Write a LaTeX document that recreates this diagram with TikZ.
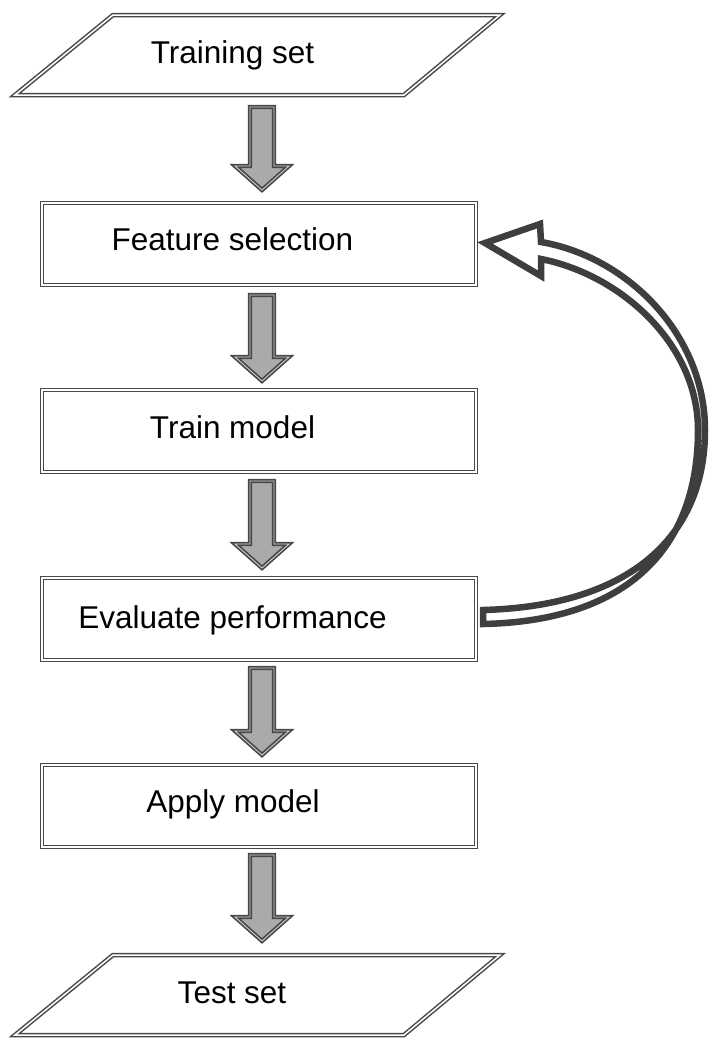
\documentclass[tikz,border=0pt]{standalone}
\usepackage{fontspec}
\setmainfont{Liberation Sans}
\usetikzlibrary{calc}
\definecolor{lineg}{RGB}{72,72,72}
\definecolor{fillg}{RGB}{170,170,170}
\definecolor{curveg}{RGB}{62,62,62}
\tikzset{
  dbl/.style={draw=lineg, line width=1.5pt, double=white, double distance=1.5pt},
  box/.style={dbl, rectangle, minimum width=434pt, minimum height=82pt, inner sep=0pt, outer sep=0pt},
  txt/.style={font=\fontsize{31.5pt}{36pt}\selectfont, inner sep=0pt, anchor=base, text=black},
  blk/.style={draw=lineg, line width=1.7pt, double=fillg!55!white, double distance=0.9pt, fill=fillg, line join=miter},
  loopar/.style={draw=curveg, fill=white, line width=6.5pt, line join=miter},
}
\newcommand\blockarrow[2]{%
  \path[blk] let \p1=(#1), \p2=(#2) in
    (\x1-12pt,\y1) -- (\x1+12pt,\y1) -- (\x1+12pt,\y2+24pt) -- (\x1+27pt,\y2+24pt)
    -- (\x1,\y2) -- (\x1-27pt,\y2+24pt) -- (\x1-12pt,\y2+24pt) -- cycle;}
\begin{document}
\begin{tikzpicture}[x=1pt,y=-1pt]
\useasboundingbox[fill=white] (0,0) rectangle (719,1050);

% input parallelogram
\draw[dbl] (113,15) -- (500,15) -- (404,95) -- (15,95) -- cycle;
\coordinate (tsb) at (259,95);
\node[txt] (ts) at ($(tsb)+(-26.5,-32)$) {Training set};

% process boxes
\node[box] (fs) at (259,244) {};
\node[box] (tm) at (259,431) {};
\node[box] (ep) at (259,619) {};
\node[box] (am) at (259,806) {};
\node[txt] (fs-t) at ($(fs)+(-26.5,6)$) {Feature selection};
\node[txt] (tm-t) at ($(tm)+(-26.5,7)$) {Train model};
\node[txt] (ep-t) at ($(ep)+(-26.5,9)$) {Evaluate performance};
\node[txt] (am-t) at ($(am)+(-26,6)$) {Apply model};

% output parallelogram
\draw[dbl] (113,955) -- (500,955) -- (404,1035) -- (15,1035) -- cycle;
\coordinate (tst) at (259,955);
\node[txt] (tt) at ($(tst)+(-27,48)$) {Test set};

% block arrows
\blockarrow{$(tsb)+(3,12)$}{$(fs.north)+(3,-13)$}
\blockarrow{$(fs.south)+(3,10)$}{$(tm.north)+(3,-9)$}
\blockarrow{$(tm.south)+(3,9)$}{$(ep.north)+(3,-10)$}
\blockarrow{$(ep.south)+(3,8)$}{$(am.north)+(3,-10)$}
\blockarrow{$(am.south)+(3,8)$}{$(tst)+(3,-14)$}

% feedback arrow
\path[loopar] ($(ep.east)+(7,-9)$)
  .. controls (632,606) and (705,535) .. (705,430)
  .. controls (705,335) and (628,257) .. (541,242)
  -- (540,224) -- ($(fs.east)+(9,-1)$) -- (541,276) -- (541,259)
  .. controls (622,275) and (698,345) .. (698,430)
  .. controls (698,548) and (628,621) .. ($(ep.east)+(7,5)$) -- cycle;
\end{tikzpicture}
\end{document}
